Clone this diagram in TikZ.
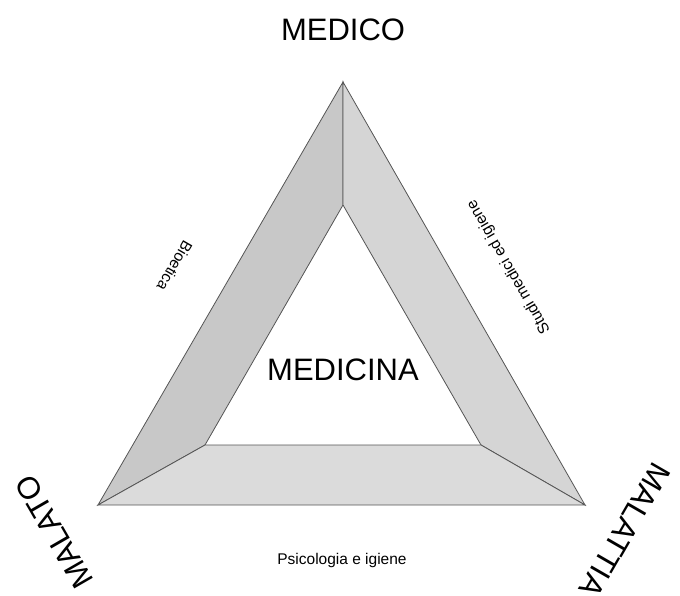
\documentclass[tikz,border=0pt]{standalone}
\usepackage{fontspec}
\setmainfont{Liberation Sans}
\usepackage{xcolor}
\usetikzlibrary{positioning}

\begin{document}
\begin{tikzpicture}[x=1pt, y=-1pt]

	\definecolor{my_gray_dark}{RGB}{85,85,85}
\definecolor{my_gray_left}{RGB}{200,200,200}
\definecolor{my_gray_right}{RGB}{213,213,213}
\definecolor{my_gray_bottom}{RGB}{219,219,219}

\tikzstyle{strip} = [draw=my_gray_dark, line width=0.8pt, line join=miter]
\tikzstyle{vertex} = [font=\fontsize{31}{36}\selectfont, inner sep=0pt]
\tikzstyle{side} = [font=\fontsize{15.5}{18}\selectfont, inner sep=0pt]

	\useasboundingbox (0,0) rectangle (680,596);

	\coordinate (top) at (343,82);
	\coordinate (left) at (98,505);
	\coordinate (right) at (585,505);
	\coordinate (in_top) at (343,205);
	\coordinate (in_left) at (205,445);
	\coordinate (in_right) at (481,445);

	\filldraw [strip, fill=my_gray_left] (top) -- (in_top) -- (in_left) -- (left) -- cycle;
	\filldraw [strip, fill=my_gray_right] (top) -- (right) -- (in_right) -- (in_top) -- cycle;
	\filldraw [strip, fill=my_gray_bottom] (left) -- (in_left) -- (in_right) -- (right) -- cycle;

	\node [vertex] (medico) at (343,30) {MEDICO};
	\node [vertex, rotate=120] (malato) at (54,532) {MALATO};
	\node [vertex, rotate=240] (malattia) at (625,530) {MALATTIA};
	\node [vertex] (medicina) at (343,370) {MEDICINA};

	\node [side, rotate=240] (bioetica) at (175,266) {Bioetica};
	\node [side, rotate=120] (studi) at (509,267) {Studi medici ed igiene};
	\node [side, anchor=base] (psicologia) at (342,564) {Psicologia e igiene};

\end{tikzpicture}
\end{document}
